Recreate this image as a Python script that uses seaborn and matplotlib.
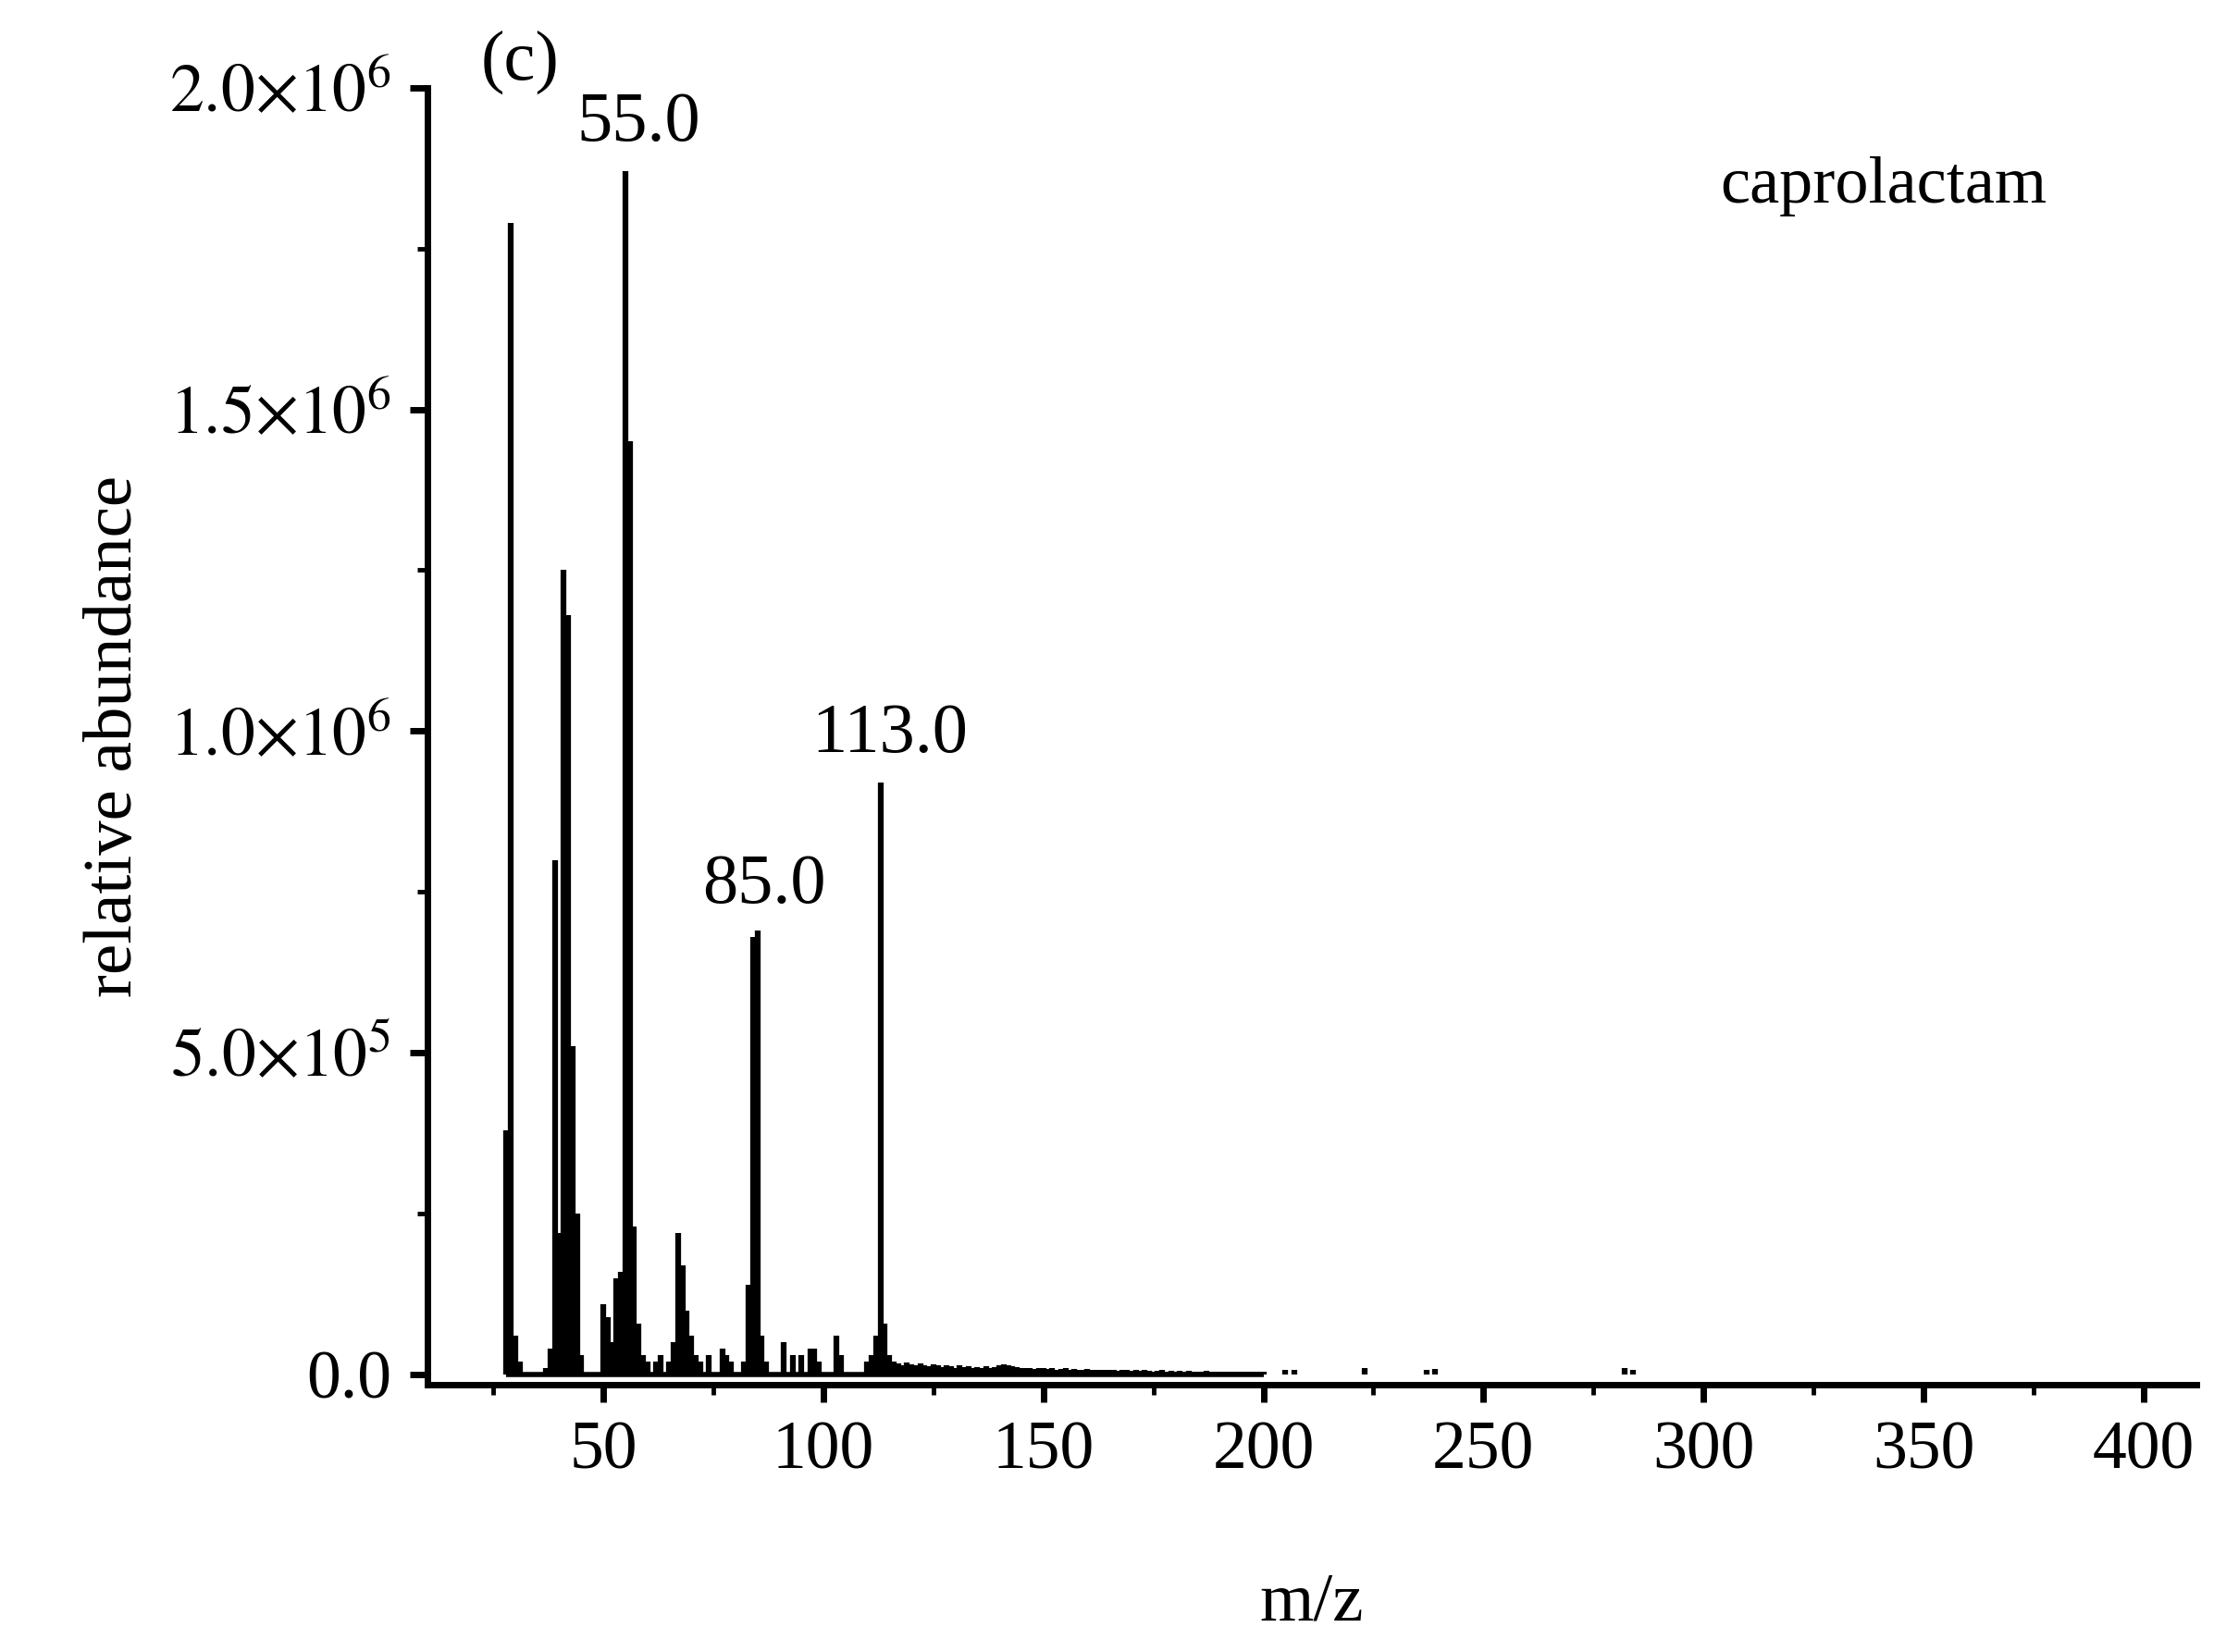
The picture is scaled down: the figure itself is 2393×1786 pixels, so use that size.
import matplotlib
matplotlib.use("Agg")
import matplotlib.pyplot as plt
import seaborn as sns
import numpy as np
from matplotlib.ticker import FixedLocator, MultipleLocator

# main peaks (m/z, abundance)
mz_main = [28, 29, 30, 31, 37, 38, 39, 40, 41, 42, 43, 44, 45,
           50, 51, 52, 53, 54, 55, 56, 57, 58, 59, 60, 62, 63, 65, 66, 67, 68, 69, 70, 71, 72,
           74, 77, 78, 79, 82, 83, 84, 85, 86, 87, 91, 93, 95, 97, 98, 99, 103, 104,
           110, 111, 112, 113, 114, 115]
ab_main = [0.38e6, 1.79e6, 0.06e6, 0.02e6, 0.01e6, 0.04e6, 0.80e6, 0.22e6, 1.25e6, 1.18e6, 0.51e6, 0.25e6, 0.03e6,
           0.11e6, 0.09e6, 0.05e6, 0.15e6, 0.16e6, 1.87e6, 1.45e6, 0.23e6, 0.08e6, 0.03e6, 0.02e6, 0.02e6, 0.03e6, 0.02e6, 0.05e6, 0.22e6, 0.17e6, 0.10e6, 0.06e6, 0.03e6, 0.02e6,
           0.03e6, 0.04e6, 0.03e6, 0.02e6, 0.02e6, 0.14e6, 0.68e6, 0.69e6, 0.06e6, 0.02e6, 0.05e6, 0.03e6, 0.03e6, 0.04e6, 0.04e6, 0.02e6, 0.06e6, 0.03e6,
           0.02e6, 0.03e6, 0.06e6, 0.92e6, 0.08e6, 0.03e6]
# low-level tail
mz_tail = list(range(116, 201)) + [205, 207, 223, 237, 239, 282, 284]
ab_tail = [0.020, 0.018, 0.015, 0.019, 0.016, 0.014, 0.017, 0.015, 0.013, 0.016,
           0.014, 0.012, 0.015, 0.013, 0.011, 0.014, 0.012, 0.013, 0.011, 0.012,
           0.010, 0.013, 0.011, 0.012, 0.014, 0.016, 0.015, 0.013, 0.012, 0.011,
           0.010, 0.011, 0.009, 0.010, 0.011, 0.009, 0.010, 0.008, 0.009, 0.010,
           0.008, 0.009, 0.008, 0.007, 0.009, 0.008, 0.007, 0.008, 0.007, 0.008,
           0.007, 0.006, 0.008, 0.007, 0.006, 0.007, 0.006, 0.007, 0.006, 0.005,
           0.006, 0.007, 0.005, 0.006, 0.005, 0.006, 0.005, 0.006, 0.005, 0.004,
           0.005, 0.006, 0.005, 0.004, 0.005, 0.004, 0.005, 0.004, 0.005, 0.004,
           0.004, 0.005, 0.004, 0.004, 0.005,
           0.008, 0.008, 0.010, 0.008, 0.009, 0.010, 0.008]
ab_tail = [v * 1e6 for v in ab_tail]

xticks = [50, 100, 150, 200, 250, 300, 350, 400]
yticks = [0, 0.5e6, 1.0e6, 1.5e6, 2.0e6]
ylabels = ["0.0", r"$5.0{\times}10^{5}$", r"$1.0{\times}10^{6}$", r"$1.5{\times}10^{6}$", r"$2.0{\times}10^{6}$"]

sns.set_style("ticks")
plt.rcParams["font.family"] = ["Liberation Serif", "DejaVu Serif"]
plt.rcParams["mathtext.fontset"] = "stix"
plt.rcParams["text.color"] = "black"
plt.rcParams["axes.labelcolor"] = "black"
plt.rcParams["xtick.color"] = "black"
plt.rcParams["ytick.color"] = "black"
plt.rcParams["axes.edgecolor"] = "black"

fig = plt.figure(figsize=(23.93, 17.86), dpi=100)
ax = fig.add_axes([0.193, 0.162, 0.799, 0.785])

mz = np.array(mz_main + mz_tail)
ab = np.array(ab_main + ab_tail)
ax.vlines(mz, 0, ab, color="black", linewidth=4.5)
ax.hlines(0, 28, 200, color="black", linewidth=4)

ax.set_xlim(10, 412)
ax.set_ylim(-0.015e6, 2.0e6)
ax.xaxis.set_major_locator(FixedLocator(xticks))
ax.xaxis.set_minor_locator(MultipleLocator(25))
ax.yaxis.set_major_locator(FixedLocator(yticks))
ax.yaxis.set_minor_locator(MultipleLocator(0.25e6))
ax.set_yticklabels(ylabels)
ax.tick_params(axis="both", which="major", direction="out", length=14, width=5, labelsize=53, pad=14)
ax.tick_params(axis="both", which="minor", direction="out", length=8, width=3.5)
sns.despine(ax=ax)
for s in ["left", "bottom"]:
    ax.spines[s].set_linewidth(5)

ax.set_xlabel("m/z", fontsize=54, labelpad=70)
ax.set_ylabel("relative abundance", fontsize=54, labelpad=18)

ax.text(58, 1.895e6, "55.0", fontsize=55, ha="center", va="bottom")
ax.text(86.5, 0.71e6, "85.0", fontsize=55, ha="center", va="bottom")
ax.text(115, 0.945e6, "113.0", fontsize=55, ha="center", va="bottom")
ax.text(31, 1.99e6, "(c)", fontsize=55, ha="center", va="bottom")
ax.text(341, 1.8e6, "caprolactam", fontsize=52, ha="center", va="bottom")

fig.savefig("out.png", dpi=100)
